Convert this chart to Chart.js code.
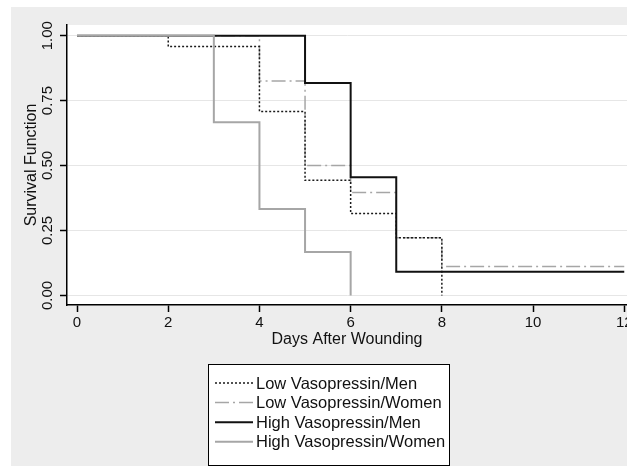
<!DOCTYPE html>
<html>
<head>
<meta charset="utf-8">
<script src="https://cdn.jsdelivr.net/npm/chart.js@4"></script>
<style>
  html, body { margin: 0; padding: 0; background: #fff; }
  #wrap { width: 627px; height: 466px; }
</style>
</head>
<body>
<div id="wrap"><canvas id="survChart" width="627" height="466"></canvas></div>
<script>
"use strict"
// Data (Kaplan-Meier steps)
const lowMenX = [0, 2, 4, 5, 6, 7, 8];
const lowMenY = [1, 0.958, 0.708, 0.443, 0.315, 0.222, 0];

const lowWomenX = [0, 4, 5, 6, 7, 8, 12];
const lowWomenY = [1, 0.825, 0.5, 0.396, 0.222, 0.111, 0.111];

const highMenX = [0, 5, 6, 7, 12];
const highMenY = [1, 0.818, 0.455, 0.091, 0.091];

const highWomenX = [0, 3, 4, 5, 6];
const highWomenY = [1, 0.667, 0.333, 0.167, 0];

const seriesNames = ["Low Vasopressin/Men", "Low Vasopressin/Women", "High Vasopressin/Men", "High Vasopressin/Women"];
const xTicks = [0, 2, 4, 6, 8, 10, 12];
const yTicks = [0, 0.25, 0.5, 0.75, 1];
const yTickLabels = ["0.00", "0.25", "0.50", "0.75", "1.00"];

const FONT = "'Liberation Sans', Arial, sans-serif";

function toPoints(xs, ys) {
    return xs.map((x, i) => ({ x: x, y: ys[i] }));
}

// Grey page background and white plot region
const backgroundPlugin = {
    id: "background",
    beforeDraw(chart) {
        const ctx = chart.ctx;
        const a = chart.chartArea;
        ctx.save();
        ctx.fillStyle = "#ededed";
        ctx.fillRect(11, 7, chart.width - 11, chart.height - 7);
        ctx.fillStyle = "#ffffff";
        ctx.fillRect(a.left, a.top, chart.width - a.left, a.bottom - a.top);
        ctx.restore();
    }
};

// Vertical y tick labels (Stata style)
const yLabelPlugin = {
    id: "yLabels",
    afterDraw(chart) {
        const ctx = chart.ctx;
        const scale = chart.scales.y;
        ctx.save();
        ctx.font = "15px " + FONT;
        ctx.fillStyle = "#111";
        ctx.textAlign = "center";
        ctx.textBaseline = "middle";
        yTicks.forEach((v, i) => {
            const y = scale.getPixelForValue(v);
            ctx.save();
            ctx.translate(48, y);
            ctx.rotate(-Math.PI / 2);
            ctx.fillText(yTickLabels[i], 0, 0);
            ctx.restore();
        });
        ctx.restore();
    }
};

// Boxed legend below the x axis title
const boxLegendPlugin = {
    id: "boxLegend",
    afterDraw(chart) {
        const ctx = chart.ctx;
        const bx = 208, by = 364, bw = 241, bh = 101;
        ctx.save();
        ctx.fillStyle = "#ffffff";
        ctx.fillRect(bx, by, bw, bh);
        ctx.strokeStyle = "#000";
        ctx.lineWidth = 1;
        ctx.strokeRect(bx + 0.5, by + 0.5, bw, bh);
        ctx.font = "16.5px " + FONT;
        ctx.textBaseline = "middle";
        ctx.textAlign = "left";
        chart.data.datasets.forEach((ds, i) => {
            const y = 383 + i * 19.6;
            ctx.beginPath();
            ctx.strokeStyle = ds.borderColor;
            ctx.lineWidth = ds.borderWidth;
            ctx.setLineDash(ds.borderDash || []);
            ctx.moveTo(215, y);
            ctx.lineTo(253, y);
            ctx.stroke();
            ctx.setLineDash([]);
            ctx.fillStyle = "#111";
            ctx.fillText(seriesNames[i], 256, y + 1);
        });
        ctx.restore();
    }
};

const ctx = document.getElementById("survChart");
new Chart(ctx, {
    type: "line",
    data: {
        datasets: [
            {
                label: seriesNames[0],
                data: toPoints(lowMenX, lowMenY),
                borderColor: "#1a1a1a",
                borderWidth: 1.5,
                borderDash: [2, 2],
                stepped: "before",
                pointRadius: 0,
                order: 2
            },
            {
                label: seriesNames[1],
                data: toPoints(lowWomenX, lowWomenY),
                borderColor: "#a6a6a6",
                borderWidth: 1.5,
                borderDash: [14, 4, 2, 4],
                stepped: "before",
                pointRadius: 0,
                order: 3
            },
            {
                label: seriesNames[2],
                data: toPoints(highMenX, highMenY),
                borderColor: "#111111",
                borderWidth: 2,
                stepped: "before",
                pointRadius: 0,
                order: 1
            },
            {
                label: seriesNames[3],
                data: toPoints(highWomenX, highWomenY),
                borderColor: "#a6a6a6",
                borderWidth: 2,
                stepped: "before",
                pointRadius: 0,
                order: 0
            }
        ]
    },
    options: {
        responsive: false,
        animation: false,
        layout: { padding: { top: 25, bottom: 116, left: 0, right: 0 } },
        plugins: {
            legend: { display: false },
            tooltip: { enabled: false }
        },
        scales: {
            x: {
                type: "linear",
                min: -0.22,
                max: 12.06,
                afterBuildTicks: scale => { scale.ticks = xTicks.map(v => ({ value: v })); },
                afterFit: scale => {
                    scale.height = 45;
                    scale.paddingLeft = 0;
                    scale.paddingRight = 0;
                },
                grid: {
                    drawOnChartArea: false,
                    tickLength: 7,
                    tickColor: "#000",
                    tickWidth: 1.5
                },
                border: { color: "#000", width: 1.5 },
                ticks: {
                    padding: 2,
                    maxRotation: 0,
                    color: "#111",
                    font: { family: FONT, size: 15 }
                },
                title: {
                    display: true,
                    text: "Days After Wounding",
                    color: "#111",
                    font: { family: FONT, size: 16 },
                    padding: { top: 0, bottom: 1 }
                }
            },
            y: {
                type: "linear",
                min: -0.037,
                max: 1.041,
                afterBuildTicks: scale => { scale.ticks = yTicks.map(v => ({ value: v })); },
                afterFit: scale => { scale.width = 67; },
                grid: {
                    color: "#e6e6e6",
                    lineWidth: 1,
                    tickLength: 7,
                    tickColor: "#000",
                    tickWidth: 1.5
                },
                border: { color: "#000", width: 1.5 },
                ticks: { display: false },
                title: {
                    display: true,
                    text: "Survival Function",
                    color: "#111",
                    font: { family: FONT, size: 16 },
                    padding: { top: 22, bottom: 0 }
                }
            }
        }
    },
    plugins: [backgroundPlugin, yLabelPlugin, boxLegendPlugin]
});
</script>
</body>
</html>
